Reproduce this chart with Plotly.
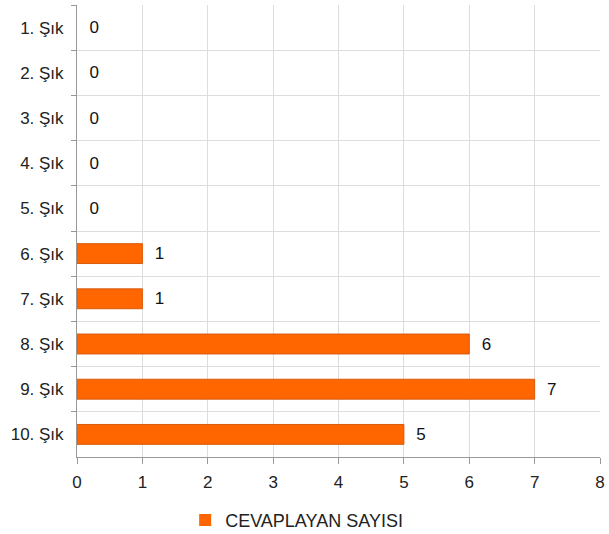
import plotly.graph_objects as go

categories = ["1. Şık", "2. Şık", "3. Şık", "4. Şık", "5. Şık",
              "6. Şık", "7. Şık", "8. Şık", "9. Şık", "10. Şık"]
values = [0, 0, 0, 0, 0, 1, 1, 6, 7, 5]
series_name = "CEVAPLAYAN SAYISI"

FONT = "Liberation Sans, Arial"

fig = go.Figure()
fig.add_trace(go.Bar(
    y=categories, x=values, orientation="h", name=series_name,
    marker=dict(color="#FF6600",
                line=dict(color="#D9590A", width=[0 if v == 0 else 1 for v in values])),
    width=0.44,
    text=["\u00a0\u00a0" + str(v) for v in values], textposition="outside",
    textfont=dict(color="#111111", size=17, family=FONT),
    cliponaxis=False, showlegend=True,
))

fig.update_layout(
    width=609, height=534,
    margin=dict(l=77, r=9, t=5, b=77, autoexpand=False),
    paper_bgcolor="white", plot_bgcolor="white",
    font=dict(family=FONT, size=17, color="#222222"),
    showlegend=True,
    legend=dict(orientation="h", x=0.42, xanchor="center",
                y=-0.14, yanchor="middle", font=dict(size=18)),
    xaxis=dict(range=[0, 8], dtick=1, showgrid=True, gridcolor="#DDDDDD",
               showline=True, linecolor="#999999", ticks="outside", ticklen=6,
               tickcolor="#999999", zeroline=False, automargin=False,
               ticklabelstandoff=4),
    yaxis=dict(type="category", autorange="reversed", tickson="boundaries",
               showgrid=True, gridcolor="#DDDDDD", showline=True, linecolor="#999999",
               ticks="outside", ticklen=5, tickcolor="#999999", automargin=False,
               ticklabelstandoff=9),
)

fig.write_html("out.html", config={"displayModeBar": False},
               post_script="document.body.style.margin='0';document.body.style.overflow='hidden';")
